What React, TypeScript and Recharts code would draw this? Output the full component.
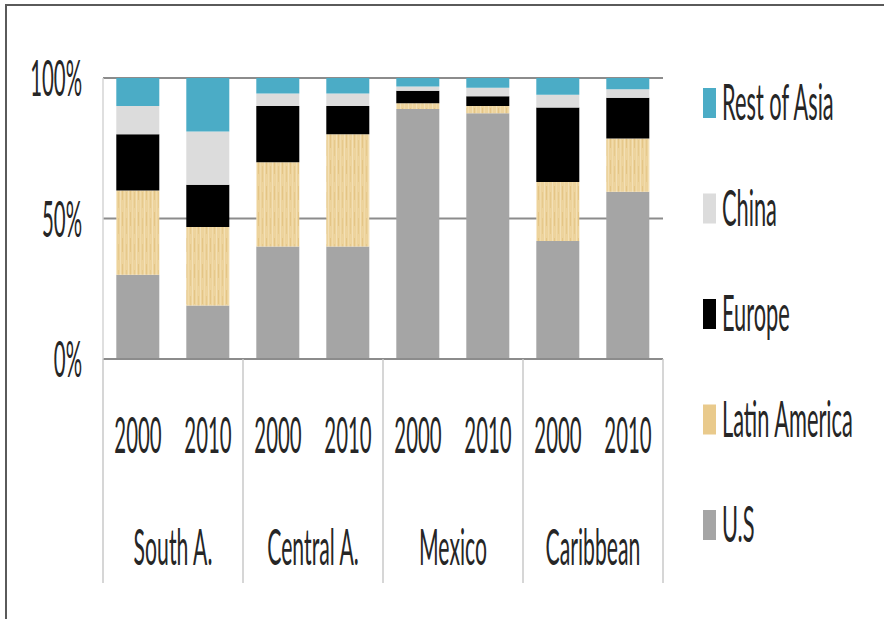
import { BarChart, Bar, XAxis, YAxis, CartesianGrid } from 'recharts';

const periods = ['2000', '2010'];
const regions = ['South A.', 'Central A.', 'Mexico', 'Caribbean'];

// bottom -> top of each stack, in percent
const us = [30, 19, 40, 40, 89, 87.5, 42, 59.5];
const latinAmerica = [30, 28, 30, 40, 2, 2.5, 21, 19];
const europe = [20, 15, 20, 10, 4.5, 3.5, 26.5, 14.5];
const china = [10, 19, 4.5, 4.5, 1.5, 3, 4.5, 3];
const restOfAsia = [10, 19, 5.5, 5.5, 3, 3.5, 6, 4];

const yTicks = [0, 50, 100];

const series = [
  { key: 'restOfAsia', name: 'Rest of Asia', color: '#4BACC6' },
  { key: 'china', name: 'China', color: '#DCDCDC' },
  { key: 'europe', name: 'Europe', color: '#000000' },
  { key: 'latinAmerica', name: 'Latin America', color: '#E9CA8C' },
  { key: 'us', name: 'U.S', color: '#A5A5A5' },
];

const data = regions.flatMap((region, r) =>
  periods.map((year, p) => {
    const i = r * periods.length + p;
    return {
      year,
      region,
      us: us[i],
      latinAmerica: latinAmerica[i],
      europe: europe[i],
      china: china[i],
      restOfAsia: restOfAsia[i],
    };
  })
);

const FONT = 'Lato, "Open Sans", sans-serif';
const FS = 20;
const SX = 1.02;
const SY = 2.5;
const TEXT = '#262626';
const HALF_SLOT = 35;

function Stretch({ x, y, anchor = 'middle', sx = SX, children }: any) {
  return (
    <text
      transform={`translate(${x},${y}) scale(${sx},${SY})`}
      textAnchor={anchor}
      fontFamily={FONT}
      fontSize={FS}
      fill={TEXT}
    >
      {children}
    </text>
  );
}

function YearTick(props: any) {
  const { x, y, payload, index } = props;
  const row = data[index];
  const first = index % 2 === 0;
  return (
    <g>
      {first && (
        <line x1={x - HALF_SLOT} x2={x - HALF_SLOT} y1={y} y2={y + 224} stroke="#C8C8C8" strokeWidth={1.5} />
      )}
      {index === data.length - 1 && (
        <line x1={x + HALF_SLOT} x2={x + HALF_SLOT} y1={y} y2={y + 224} stroke="#C8C8C8" strokeWidth={1.5} />
      )}
      <Stretch x={x} y={y + 94}>{payload.value}</Stretch>
      {first && <Stretch x={x + HALF_SLOT} y={y + 206} sx={1.06}>{row.region}</Stretch>}
    </g>
  );
}

function PctTick(props: any) {
  const { y, payload } = props;
  return <Stretch x={82} y={y + 18} anchor="end">{`${payload.value}%`}</Stretch>;
}

function LegendBox() {
  return (
    <svg width={884} height={619} style={{ position: 'absolute', left: 0, top: 0, pointerEvents: 'none' }}>
      {series.map((s, i) => {
        const cy = 103 + i * 105.5;
        return (
          <g key={s.key}>
            <rect x={703} y={cy - 15} width={13} height={30} fill={s.color} />
            <Stretch x={722} y={cy + 17} anchor="start" sx={1.09}>{s.name}</Stretch>
          </g>
        );
      })}
    </svg>
  );
}

export default function App() {
  return (
    <div style={{ position: 'absolute', left: 0, top: 0, width: 884, height: 619, background: '#fff', overflow: 'hidden' }}>
      <div
        style={{
          position: 'absolute',
          left: 5,
          top: 4,
          width: 900,
          height: 640,
          borderLeft: '2px solid #5a5a5a',
          borderTop: '2px solid #5a5a5a',
        }}
      />
      <BarChart
        width={884}
        height={619}
        data={data}
        margin={{ top: 78, right: 221, bottom: 230, left: 8 }}
        barCategoryGap="19%"
        style={{ position: 'absolute', left: 0, top: 0 }}
      >
        <defs>
          <pattern id="latam" width={8} height={26} patternUnits="userSpaceOnUse">
            <rect width={8} height={26} fill="#EDD39C" />
            <rect x={0} width={1} height={26} fill="#F3E0B6" />
            <rect x={2} y={4} width={1} height={14} fill="#E4C586" />
            <rect x={4} width={1} height={26} fill="#F1DBAB" />
            <rect x={6} y={10} width={1} height={16} fill="#E6C98C" />
          </pattern>
        </defs>
        <CartesianGrid vertical={false} stroke="#8C8C8C" strokeWidth={2} />
        <XAxis
          dataKey="year"
          interval={0}
          height={30}
          tickSize={0}
          tickMargin={0}
          tickLine={false}
          axisLine={{ stroke: '#8C8C8C', strokeWidth: 2 }}
          tick={(p: any) => <YearTick {...p} />}
        />
        <YAxis
          width={95}
          domain={[0, 100]}
          ticks={yTicks}
          tickSize={0}
          tickMargin={0}
          tickLine={false}
          axisLine={{ stroke: '#D4D4D4', strokeWidth: 1.5 }}
          tick={(p: any) => <PctTick {...p} />}
        />
        <Bar dataKey="us" stackId="a" fill="#A5A5A5" isAnimationActive={false} />
        <Bar dataKey="latinAmerica" stackId="a" fill="url(#latam)" isAnimationActive={false} />
        <Bar dataKey="europe" stackId="a" fill="#000000" isAnimationActive={false} />
        <Bar dataKey="china" stackId="a" fill="#DCDCDC" isAnimationActive={false} />
        <Bar dataKey="restOfAsia" stackId="a" fill="#4BACC6" isAnimationActive={false} />
      </BarChart>
      <LegendBox />
    </div>
  );
}
